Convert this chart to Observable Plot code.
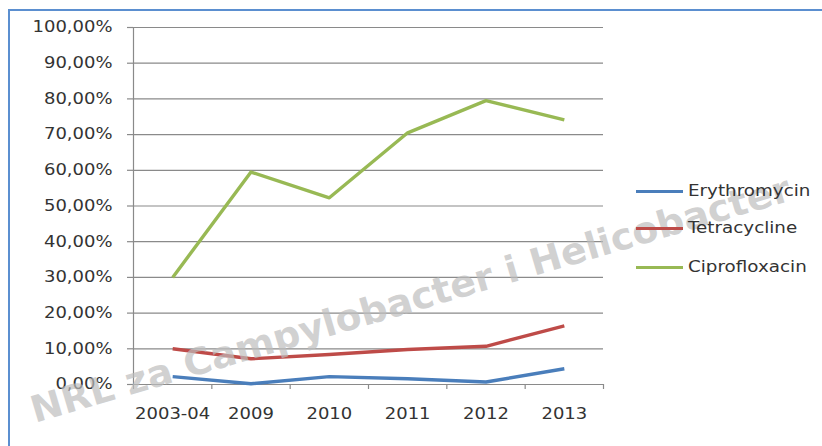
<!DOCTYPE html>
<html><head><meta charset="utf-8">
<script src="https://cdn.jsdelivr.net/npm/d3@7"></script>
<script src="https://cdn.jsdelivr.net/npm/@observablehq/plot@0.6"></script>
<style>
body{margin:0;background:#fff;}
#wrap{position:relative;width:822px;height:446px;overflow:hidden;background:#fff;}
#border{position:absolute;left:8px;top:9px;width:900px;height:600px;border-top:2px solid #5b8fd0;border-left:2px solid #5b8fd0;pointer-events:none;}
#legend{position:absolute;left:636px;top:0;font-family:"DejaVu Sans",sans-serif;font-size:15px;color:#333;}
.item{position:absolute;left:0;display:flex;align-items:center;white-space:nowrap;transform:translateY(-50%);}
.sw{width:47px;height:3px;margin-right:5px;}
.lbl{display:inline-block;transform:scaleX(1.22);transform-origin:left center;}
</style></head><body><div id="wrap"><div id="border"></div><div id="legend"></div></div>
<script>
const categories = ["2003-04","2009","2010","2011","2012","2013"];
const erythromycin = [0.022, 0.002, 0.022, 0.016, 0.007, 0.044];
const tetracycline = [0.100, 0.072, 0.084, 0.098, 0.107, 0.164];
const ciprofloxacin = [0.300, 0.595, 0.523, 0.705, 0.795, 0.741];
const seriesNames = ["Erythromycin","Tetracycline","Ciprofloxacin"];
const seriesColors = ["#4a7ebb","#be4b48","#98b954"];
const yTicks = [0,0.1,0.2,0.3,0.4,0.5,0.6,0.7,0.8,0.9,1.0];
const watermark = "NRL za Campylobacter i Helicobacter";

const seriesValues = [erythromycin, tetracycline, ciprofloxacin];
const data = seriesNames.flatMap((s, k) => categories.map((c, i) => ({series: s, i, cat: c, value: seriesValues[k][i]})));
const boundaries = d3.range(categories.length + 1).map(b => b - 0.5);
const fmt = d => (d * 100).toFixed(2).replace(".", ",") + "%";

const chart = Plot.plot({
  width: 822,
  height: 446,
  marginLeft: 133,
  marginRight: 219,
  marginTop: 27,
  marginBottom: 62,
  style: {fontFamily: "DejaVu Sans, sans-serif", fontSize: "15px", color: "#333", background: "transparent", overflow: "visible"},
  x: {type: "linear", domain: [-0.5, categories.length - 0.5], ticks: boundaries, tickSize: 5, tickFormat: () => "", label: null},
  y: {domain: [0, 1], ticks: yTicks, tickFormat: fmt, tickSize: 6, tickPadding: 15, label: null},
  color: {domain: seriesNames, range: seriesColors},
  marks: [
    Plot.ruleY(yTicks, {stroke: "#8a8a8a", strokeWidth: 1.2, strokeOpacity: 1}),
    Plot.ruleX([-0.5], {stroke: "#8a8a8a", strokeWidth: 1.2}),
    Plot.text(categories, {x: (d, i) => i, text: d => d, frameAnchor: "bottom", dy: 34, fill: "#333"}),
    Plot.line(data, {x: "i", y: "value", z: "series", stroke: "series", strokeWidth: 3.4, strokeLinejoin: "round", strokeLinecap: "butt"})
  ]
});
const svg = d3.select(chart);
svg.selectAll("[aria-label='x-axis tick'] path, [aria-label='y-axis tick'] path").attr("stroke", "#8a8a8a").attr("stroke-width", 1.2);
svg.style("position", "absolute").style("left", "0").style("top", "0");
document.getElementById("wrap").prepend(chart);

// horizontal stretch of the text, like the reference picture
const sx = 1.2;
svg.selectAll("text").each(function() {
  const b = this.getBBox();
  const anchor = getComputedStyle(this).textAnchor;
  const ax = anchor === "end" ? b.x + b.width : anchor === "start" ? b.x : b.x + b.width / 2;
  const t = this.getAttribute("transform") || "";
  this.setAttribute("transform", `${t} translate(${ax},0) scale(${sx},1) translate(${-ax},0)`);
});

svg.append("text")
  .attr("transform", "translate(35,423) rotate(-16.4)")
  .attr("text-anchor", "start")
  .attr("font-family", "DejaVu Sans, sans-serif")
  .attr("font-weight", "bold")
  .attr("font-size", 37)
  .attr("fill", "#bdbdbd")
  .attr("fill-opacity", 0.7)
  .attr("textLength", 790)
  .attr("lengthAdjust", "spacingAndGlyphs")
  .text(watermark);

const legend = d3.select("#legend");
const legendY = [191, 228, 267];
seriesNames.forEach((s, k) => {
  const it = legend.append("div").attr("class", "item").style("top", legendY[k] + "px");
  it.append("div").attr("class", "sw").style("background", seriesColors[k]);
  it.append("span").attr("class", "lbl").text(s);
});
</script></body></html>
